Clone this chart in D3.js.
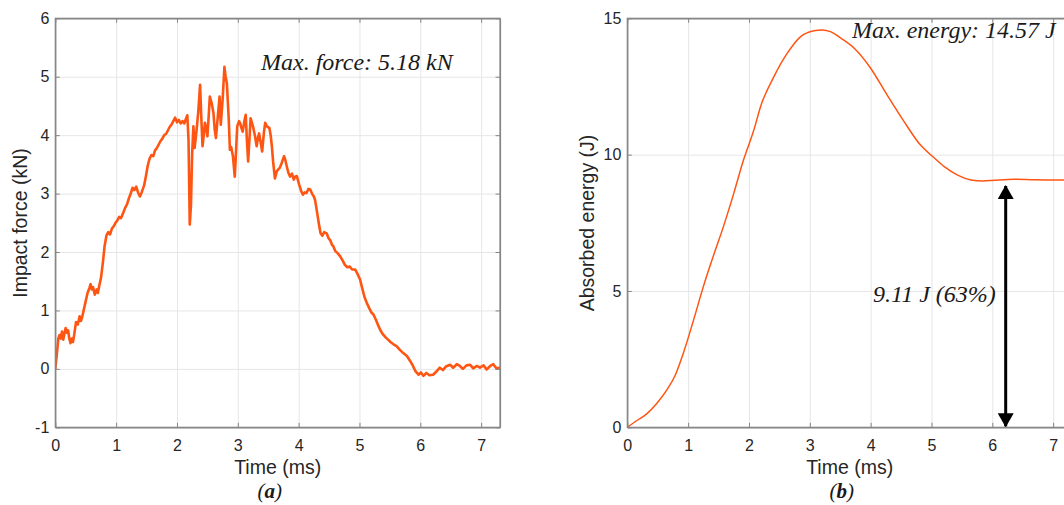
<!DOCTYPE html>
<html>
<head>
<meta charset="utf-8">
<script src="https://cdn.jsdelivr.net/npm/d3@7"></script>
<style>
  body { margin: 0; background: #fff; overflow: hidden; }
  svg { display: block; }
  .tick text { font-family: "Liberation Sans", Arial, sans-serif; font-size: 16px; fill: #262626; }
  .axlabel { font-family: "Liberation Sans", Arial, sans-serif; font-size: 19.5px; fill: #262626; }
  .note { font-family: "Liberation Serif", "DejaVu Serif", serif; font-style: italic; font-size: 24px; fill: #1a1a1a; }
  .grid line { stroke: #e6e6e6; stroke-width: 1; }
  .grid path { display: none; }
</style>
</head>
<body>
<div id="chart"></div>
<script>
// Impact force (a)
var forceTime = [0.00,0.03,0.05,0.07,0.09,0.11,0.13,0.15,0.17,0.19,0.21,0.23,0.25,0.27,0.29,0.31,0.34,0.37,0.40,0.42,0.44,0.47,0.50,0.53,0.56,0.58,0.60,0.62,0.65,0.68,0.70,0.72,0.75,0.78,0.81,0.84,0.87,0.90,0.93,0.96,0.99,1.02,1.05,1.08,1.12,1.15,1.18,1.21,1.24,1.27,1.30,1.33,1.36,1.39,1.42,1.46,1.49,1.52,1.55,1.58,1.61,1.64,1.67,1.70,1.73,1.76,1.79,1.82,1.85,1.88,1.91,1.94,1.97,2.00,2.03,2.06,2.09,2.12,2.14,2.17,2.19,2.21,2.23,2.25,2.27,2.29,2.32,2.35,2.38,2.40,2.42,2.44,2.46,2.48,2.50,2.52,2.54,2.57,2.60,2.62,2.64,2.67,2.70,2.72,2.75,2.78,2.80,2.82,2.85,2.87,2.89,2.92,2.95,2.97,2.99,3.02,3.04,3.06,3.08,3.11,3.13,3.15,3.17,3.19,3.21,3.23,3.25,3.28,3.31,3.33,3.35,3.38,3.40,3.43,3.45,3.48,3.52,3.54,3.56,3.58,3.61,3.64,3.67,3.69,3.72,3.74,3.76,3.78,3.80,3.83,3.86,3.89,3.92,3.94,3.97,4.01,4.04,4.07,4.10,4.13,4.16,4.19,4.22,4.25,4.27,4.30,4.33,4.36,4.39,4.42,4.46,4.49,4.52,4.55,4.57,4.60,4.64,4.68,4.72,4.76,4.80,4.84,4.88,4.93,4.97,5.01,5.04,5.08,5.12,5.16,5.20,5.23,5.27,5.31,5.34,5.38,5.43,5.47,5.51,5.56,5.61,5.66,5.72,5.78,5.83,5.88,5.92,5.97,6.01,6.05,6.10,6.15,6.21,6.26,6.32,6.37,6.42,6.49,6.54,6.60,6.65,6.70,6.76,6.82,6.87,6.93,6.98,7.04,7.09,7.15,7.20,7.25,7.31];
var forceKN = [0.00,0.30,0.52,0.58,0.52,0.64,0.50,0.60,0.70,0.62,0.66,0.52,0.44,0.52,0.46,0.58,0.80,0.76,0.90,0.82,0.88,1.02,1.16,1.30,1.38,1.45,1.36,1.40,1.27,1.36,1.30,1.41,1.55,1.80,2.10,2.28,2.34,2.30,2.40,2.44,2.50,2.54,2.60,2.58,2.68,2.76,2.82,2.92,3.00,3.10,3.06,3.12,3.02,2.95,3.02,3.14,3.30,3.48,3.60,3.66,3.64,3.74,3.78,3.84,3.90,3.94,4.00,4.02,4.08,4.14,4.18,4.24,4.30,4.22,4.26,4.20,4.24,4.20,4.26,4.34,3.92,2.47,2.80,3.70,4.15,3.78,4.06,4.40,4.86,4.30,3.81,4.00,4.21,4.12,3.98,4.30,4.66,4.55,4.38,4.10,3.95,4.30,4.66,4.18,4.60,5.17,5.00,4.89,4.30,3.75,3.80,3.64,3.29,3.70,4.15,4.24,4.20,4.12,4.06,4.25,4.35,3.90,3.55,3.90,4.29,4.22,4.15,4.00,3.81,3.95,4.03,3.85,3.72,4.05,4.21,4.15,4.12,4.00,3.81,3.55,3.26,3.38,3.42,3.44,3.52,3.58,3.64,3.58,3.49,3.36,3.29,3.34,3.24,3.29,3.30,3.15,3.05,2.98,3.02,3.01,3.08,3.07,3.00,2.95,2.89,2.70,2.50,2.32,2.28,2.34,2.32,2.24,2.20,2.12,2.10,2.02,1.98,1.93,1.86,1.78,1.74,1.75,1.70,1.70,1.62,1.53,1.40,1.24,1.13,1.04,0.96,0.93,0.84,0.74,0.67,0.60,0.54,0.50,0.46,0.42,0.39,0.33,0.27,0.22,0.14,0.05,-0.04,-0.10,-0.06,-0.12,-0.07,-0.11,-0.10,-0.05,0.02,-0.02,0.04,0.07,0.02,0.08,0.05,0.00,0.06,0.07,0.01,0.05,0.02,0.06,-0.01,0.05,0.08,0.01,0.02];

// Absorbed energy (b)
var energyTime = [0.00,0.15,0.32,0.48,0.65,0.79,0.92,1.09,1.25,1.42,1.58,1.75,1.91,2.08,2.19,2.41,2.63,2.85,3.07,3.20,3.34,3.51,3.73,4.00,4.27,4.55,4.82,5.02,5.21,5.43,5.65,5.84,6.03,6.36,6.69,7.02,7.31];
var energyJ = [0.00,0.24,0.49,0.86,1.37,1.92,2.71,3.94,5.16,6.32,7.36,8.58,9.80,10.90,11.76,12.86,13.72,14.33,14.54,14.57,14.51,14.27,13.90,13.17,12.19,11.21,10.35,9.93,9.56,9.25,9.07,9.03,9.06,9.10,9.08,9.07,9.07];

var xTicks = [0,1,2,3,4,5,6,7];
var forceTicks = [-1,0,1,2,3,4,5,6];
var energyTicks = [0,5,10,15];

var forceMax = 5.18, energyMax = 14.57, energyKept = 9.11, keptPct = 63;
var arrowTime = 6.22, arrowTop = 8.85;

var lineColor = "#ff5512";
var W = 1064, H = 505;

var svg = d3.select("#chart").append("svg")
    .attr("width", W)
    .attr("height", H);

var defs = svg.append("defs");
defs.append("marker")
    .attr("id", "head")
    .attr("markerUnits", "userSpaceOnUse")
    .attr("viewBox", "0 0 14 16")
    .attr("refX", 13).attr("refY", 8)
    .attr("markerWidth", 14).attr("markerHeight", 16)
    .attr("orient", "auto-start-reverse")
    .append("path")
    .attr("d", "M0,0 L14,8 L0,16 Z")
    .attr("fill", "#000");

function panel(opt) {
    var x = d3.scaleLinear().domain([0, 7.31]).range([opt.left, opt.left + 444.7]);
    var y = d3.scaleLinear().domain(opt.yDomain).range([427.3, 18.3]);
    var g = svg.append("g");

    defs.append("clipPath").attr("id", opt.id + "clip")
        .append("rect")
        .attr("x", x.range()[0]).attr("y", 18.3)
        .attr("width", x.range()[1] - x.range()[0]).attr("height", 409);

    // grid
    g.append("g").attr("class", "grid")
        .attr("transform", "translate(0,427.3)")
        .call(d3.axisBottom(x).tickValues(xTicks).tickSize(-409).tickFormat(""));
    g.append("g").attr("class", "grid")
        .attr("transform", "translate(" + x.range()[0] + ",0)")
        .call(d3.axisLeft(y).tickValues(opt.yTicks).tickSize(-(x.range()[1] - x.range()[0])).tickFormat(""));

    // curve
    var pts = opt.t.map(function(d, i) { return [d, opt.v[i]]; });
    g.append("path")
        .attr("class", "line")
        .attr("clip-path", "url(#" + opt.id + "clip)")
        .attr("d", d3.line().curve(opt.curve).x(function(d){ return x(d[0]); }).y(function(d){ return y(d[1]); })(pts))
        .attr("fill", "none")
        .attr("stroke", lineColor)
        .attr("stroke-width", opt.sw)
        .attr("stroke-linejoin", "round");

    // box
    g.append("rect")
        .attr("x", x.range()[0]).attr("y", 18.3)
        .attr("width", x.range()[1] - x.range()[0]).attr("height", 409)
        .attr("fill", "none").attr("stroke", "#858585").attr("stroke-width", 1.2);

    // Add the X Axis
    g.append("g")
        .attr("transform", "translate(0,427.3)")
        .call(d3.axisBottom(x).tickValues(xTicks).tickSizeInner(-4.5).tickSizeOuter(0).tickPadding(12).tickFormat(String));
    g.append("g")
        .attr("transform", "translate(0,18.3)")
        .call(d3.axisTop(x).tickValues(xTicks).tickSizeInner(-4.5).tickSizeOuter(0).tickFormat(""));

    // Add the Y Axis
    g.append("g")
        .attr("transform", "translate(" + x.range()[0] + ",0)")
        .call(d3.axisLeft(y).tickValues(opt.yTicks).tickSizeInner(-4.5).tickSizeOuter(0).tickPadding(6).tickFormat(String));
    g.append("g")
        .attr("transform", "translate(" + x.range()[1] + ",0)")
        .call(d3.axisRight(y).tickValues(opt.yTicks).tickSizeInner(-4.5).tickSizeOuter(0).tickFormat(""));

    g.selectAll(".domain").attr("stroke", "#858585").attr("stroke-width", 1.2);
    g.selectAll(".tick line").filter(function(){ return !this.closest(".grid"); })
        .attr("stroke", "#858585");

    g.append("text")
        .attr("class", "axlabel")
        .attr("x", (x.range()[0] + x.range()[1]) / 2)
        .attr("y", 474)
        .attr("text-anchor", "middle")
        .text("Time (ms)");

    g.append("text")
        .attr("class", "axlabel")
        .attr("transform", "translate(" + opt.ylabX + ",223) rotate(-90)")
        .attr("text-anchor", "middle")
        .text(opt.ylab);

    var cap = g.append("text")
        .attr("class", "note")
        .attr("x", (x.range()[0] + x.range()[1]) / 2 - 8)
        .attr("y", 498)
        .attr("text-anchor", "middle")
        .style("font-size", "21px");
    cap.append("tspan").text("(");
    cap.append("tspan").style("font-weight", "bold").text(opt.letter);
    cap.append("tspan").text(")");

    return {g: g, x: x, y: y};
}

var pa = panel({id: "a", left: 55.3, yDomain: [-1, 6], yTicks: forceTicks, curve: d3.curveLinear,
    t: forceTime, v: forceKN, sw: 2.6, ylab: "Impact force (kN)", ylabX: 27, letter: "a"});
var pb = panel({id: "b", left: 627.3, yDomain: [0, 15], yTicks: energyTicks, curve: d3.curveMonotoneX,
    t: energyTime, v: energyJ, sw: 1.5, ylab: "Absorbed energy (J)", ylabX: 594, letter: "b"});

pa.g.append("text").attr("class", "note")
    .attr("x", 261).attr("y", 70)
    .text("Max. force: " + forceMax + " kN");

pb.g.append("text").attr("class", "note")
    .attr("x", 852).attr("y", 38)
    .text("Max. energy: " + energyMax + " J");

pb.g.append("text").attr("class", "note")
    .attr("x", 873).attr("y", 302)
    .text(energyKept + " J (" + keptPct + "%)");

pb.g.append("line")
    .attr("x1", pb.x(arrowTime)).attr("x2", pb.x(arrowTime))
    .attr("y1", pb.y(arrowTop)).attr("y2", pb.y(0) - 1)
    .attr("stroke", "#000").attr("stroke-width", 3)
    .attr("marker-start", "url(#head)")
    .attr("marker-end", "url(#head)");
</script>
</body>
</html>
